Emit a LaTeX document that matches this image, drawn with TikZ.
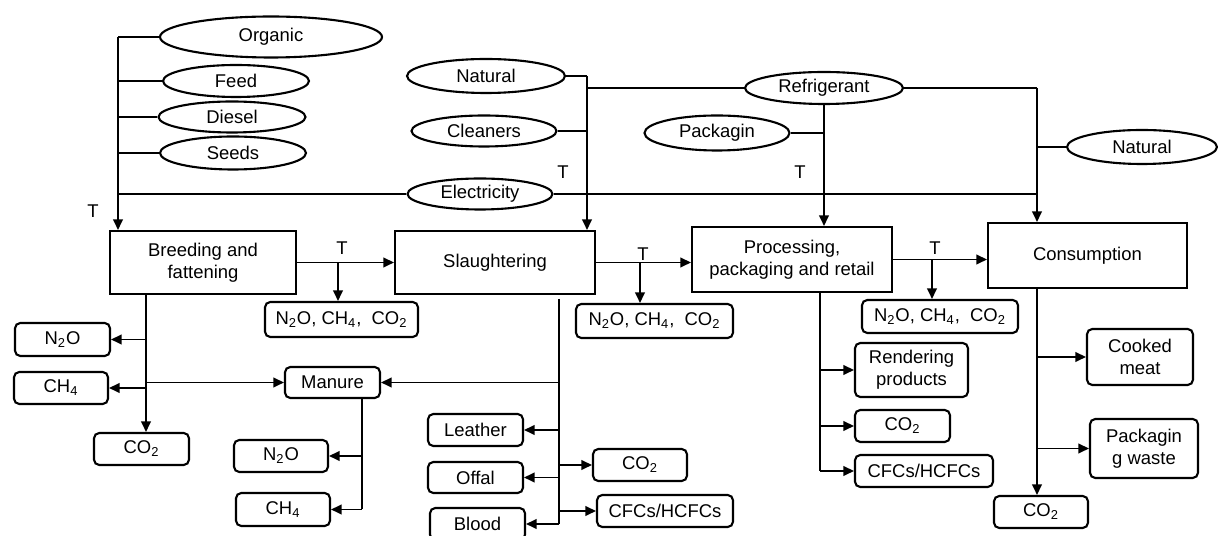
\documentclass[tikz,border=0pt]{standalone}
\usepackage{fontspec}
\setmainfont{Liberation Sans}
\usetikzlibrary{arrows.meta,shapes.geometric}

\tikzset{
  sz/.style 2 args={minimum width=#1*0.02cm, minimum height=#2*0.02cm},
  src/.style={draw, ellipse, inner sep=0pt, line width=1.2pt},
  stage/.style={draw, rectangle, align=center, inner sep=0pt, line width=1.2pt},
  outp/.style={draw, rounded corners=3pt, align=center, inner sep=0pt, line width=1.2pt},
  ln/.style={line width=1.1pt},
  arr/.style={line width=1.1pt, -{Triangle[length=6pt,width=5.5pt]}},
}

\begin{document}
\begin{tikzpicture}[x=0.02cm, y=-0.02cm, font=\fontsize{10.5}{12.5}\selectfont]
    \useasboundingbox (0,0) rectangle (1218,536);

    % inputs
    \node[src, sz={222}{41}] (organic) at (271,37) {Organic};
    \node[src, sz={146}{32}] (feed) at (236,81) {Feed};
    \node[src, sz={147}{31}] (diesel) at (232,117) {Diesel};
    \node[src, sz={146}{33}] (seeds) at (233,153) {Seeds};
    \node[src, sz={145}{31}] (elec) at (480,194) {Electricity};
    \node[src, sz={158}{34}] (natA) at (486,76) {Natural};
    \node[src, sz={145}{31}] (clean) at (484,131) {Cleaners};
    \node[src, sz={158}{32}] (refrig) at (824,88) {Refrigerant};
    \node[src, sz={145}{35}] (pack) at (717,133) {Packagin};
    \node[src, sz={150}{34}] (natB) at (1142,147) {Natural};

    % stages
    \node[stage, sz={186}{63}] (breed) at (203,262.5) {Breeding and\\fattening};
    \node[stage, sz={200}{63}] (slaugh) at (495,262.5) {Slaughtering};
    \node[stage, sz={200}{65}] (proc) at (792,259.5) {Processing,\\packaging and retail};
    \node[stage, sz={199}{65}] (cons) at (1087.5,255.5) {Consumption};

    % transport labels
    \node (t1) at (93,211) {T};
    \node (t2) at (342,248) {T};
    \node (t3) at (563,172) {T};
    \node (t4) at (643,254) {T};
    \node (t5) at (800,172) {T};
    \node (t6) at (935,248) {T};

    % outputs
    \node[outp, sz={153}{35}] (em1) at (341.5,319.5) {N\textsubscript{2}O, CH\textsubscript{4}, \ CO\textsubscript{2}};
    \node[outp, sz={157}{34}] (em2) at (654.5,321) {N\textsubscript{2}O, CH\textsubscript{4}, \ CO\textsubscript{2}};
    \node[outp, sz={156}{33}] (em3) at (940,316.5) {N\textsubscript{2}O, CH\textsubscript{4}, \ CO\textsubscript{2}};
    \node[outp, sz={95}{33}] (n2oA) at (62.5,339.5) {N\textsubscript{2}O};
    \node[outp, sz={94}{32}] (ch4A) at (61,388) {CH\textsubscript{4}};
    \node[outp, sz={95}{32}] (co2A) at (141.5,449) {CO\textsubscript{2}};
    \node[outp, sz={95}{31}] (manure) at (332.5,382.5) {Manure};
    \node[outp, sz={94}{32}] (n2oB) at (281,456) {N\textsubscript{2}O};
    \node[outp, sz={94}{33}] (ch4B) at (283,509.5) {CH\textsubscript{4}};
    \node[outp, sz={95}{32}] (leather) at (475.5,430) {Leather};
    \node[outp, sz={95}{31}] (offal) at (475.5,477.5) {Offal};
    \node[outp, sz={95}{32}] (blood) at (477.5,524) {Blood};
    \node[outp, sz={94}{32}] (co2B) at (640,465) {CO\textsubscript{2}};
    \node[outp, sz={136}{32}] (cfcB) at (665,511) {CFCs/HCFCs};
    \node[outp, sz={113}{54}] (rend) at (911.5,370) {Rendering\\products};
    \node[outp, sz={95}{32}] (co2C) at (902.5,426) {CO\textsubscript{2}};
    \node[outp, sz={138}{32}] (cfcC) at (924,471) {CFCs/HCFCs};
    \node[outp, sz={94}{32}] (co2D) at (1041,512) {CO\textsubscript{2}};
    \node[outp, sz={106}{56}] (cooked) at (1140,357) {Cooked\\meat};
    \node[outp, sz={108}{59}] (pwaste) at (1144,448.5) {Packagin\\g waste};

    % junctions
    \coordinate (lt) at (118,37);
    \coordinate (mtop) at (587,76);
    \coordinate (rt) at (1037,88);
    \coordinate (b1) at (338,262.5);
    \coordinate (b2) at (640,262.5);
    \coordinate (b3) at (932,259.5);
    \coordinate (bt) at (146,294);
    \coordinate (st) at (559,299);
    \coordinate (mt) at (362,398);
    \coordinate (pt) at (820,292);
    \coordinate (ct) at (1037,288);

    % input lines
    \draw[ln] (organic.west) -- (lt);
    \draw[arr] (lt) -- (lt |- breed.north);
    \draw[ln] (feed.west) -- (feed.west -| lt);
    \draw[ln] (diesel.west) -- (diesel.west -| lt);
    \draw[ln] (seeds.west) -- (seeds.west -| lt);
    \draw[ln] (elec.west) -- (elec.west -| lt);
    \draw[ln] (elec.east) -- (elec.east -| rt);
    \draw[ln] (natA.east) -- (mtop);
    \draw[arr] (mtop) -- (mtop |- slaugh.north);
    \draw[ln] (clean.east) -- (clean.east -| mtop);
    \draw[ln] (refrig.west) -- (refrig.west -| mtop);
    \draw[arr] (refrig.south) -- (refrig.south |- proc.north);
    \draw[ln] (pack.east) -- (pack.east -| refrig.south);
    \draw[ln] (refrig.east) -- (rt);
    \draw[arr] (rt) -- (rt |- cons.north);
    \draw[ln] (natB.west) -- (natB.west -| rt);

    % chain
    \draw[arr] (breed.east) -- (slaugh.west);
    \draw[arr] (slaugh.east) -- (slaugh.east -| proc.west);
    \draw[arr] (proc.east) -- (proc.east -| cons.west);
    \draw[arr] (b1) -- (b1 |- em1.north);
    \draw[arr] (b2) -- (b2 |- em2.north);
    \draw[arr] (b3) -- (b3 |- em3.north);

    % breeding outputs
    \draw[arr] (bt) -- (bt |- co2A.north);
    \draw[arr] (bt |- n2oA.east) -- (n2oA.east);
    \draw[arr] (bt |- ch4A.east) -- (ch4A.east);
    \draw[arr] (bt |- manure.west) -- (manure.west);
    \draw[ln] (mt) -- (mt |- ch4B.east);
    \draw[arr] (mt |- n2oB.east) -- (n2oB.east);
    \draw[arr] (mt |- ch4B.east) -- (ch4B.east);

    % slaughtering outputs
    \draw[ln] (st) -- (st |- blood.east);
    \draw[arr] (st |- manure.east) -- (manure.east);
    \draw[arr] (st |- leather.east) -- (leather.east);
    \draw[arr] (st |- offal.east) -- (offal.east);
    \draw[arr] (st |- blood.east) -- (blood.east);
    \draw[arr] (st |- co2B.west) -- (co2B.west);
    \draw[arr] (st |- cfcB.west) -- (cfcB.west);

    % processing outputs
    \draw[ln] (pt) -- (pt |- cfcC.west);
    \draw[arr] (pt |- rend.west) -- (rend.west);
    \draw[arr] (pt |- co2C.west) -- (co2C.west);
    \draw[arr] (pt |- cfcC.west) -- (cfcC.west);

    % consumption outputs
    \draw[arr] (ct) -- (ct |- co2D.north);
    \draw[arr] (ct |- cooked.west) -- (cooked.west);
    \draw[arr] (ct |- pwaste.west) -- (pwaste.west);
\end{tikzpicture}
\end{document}
